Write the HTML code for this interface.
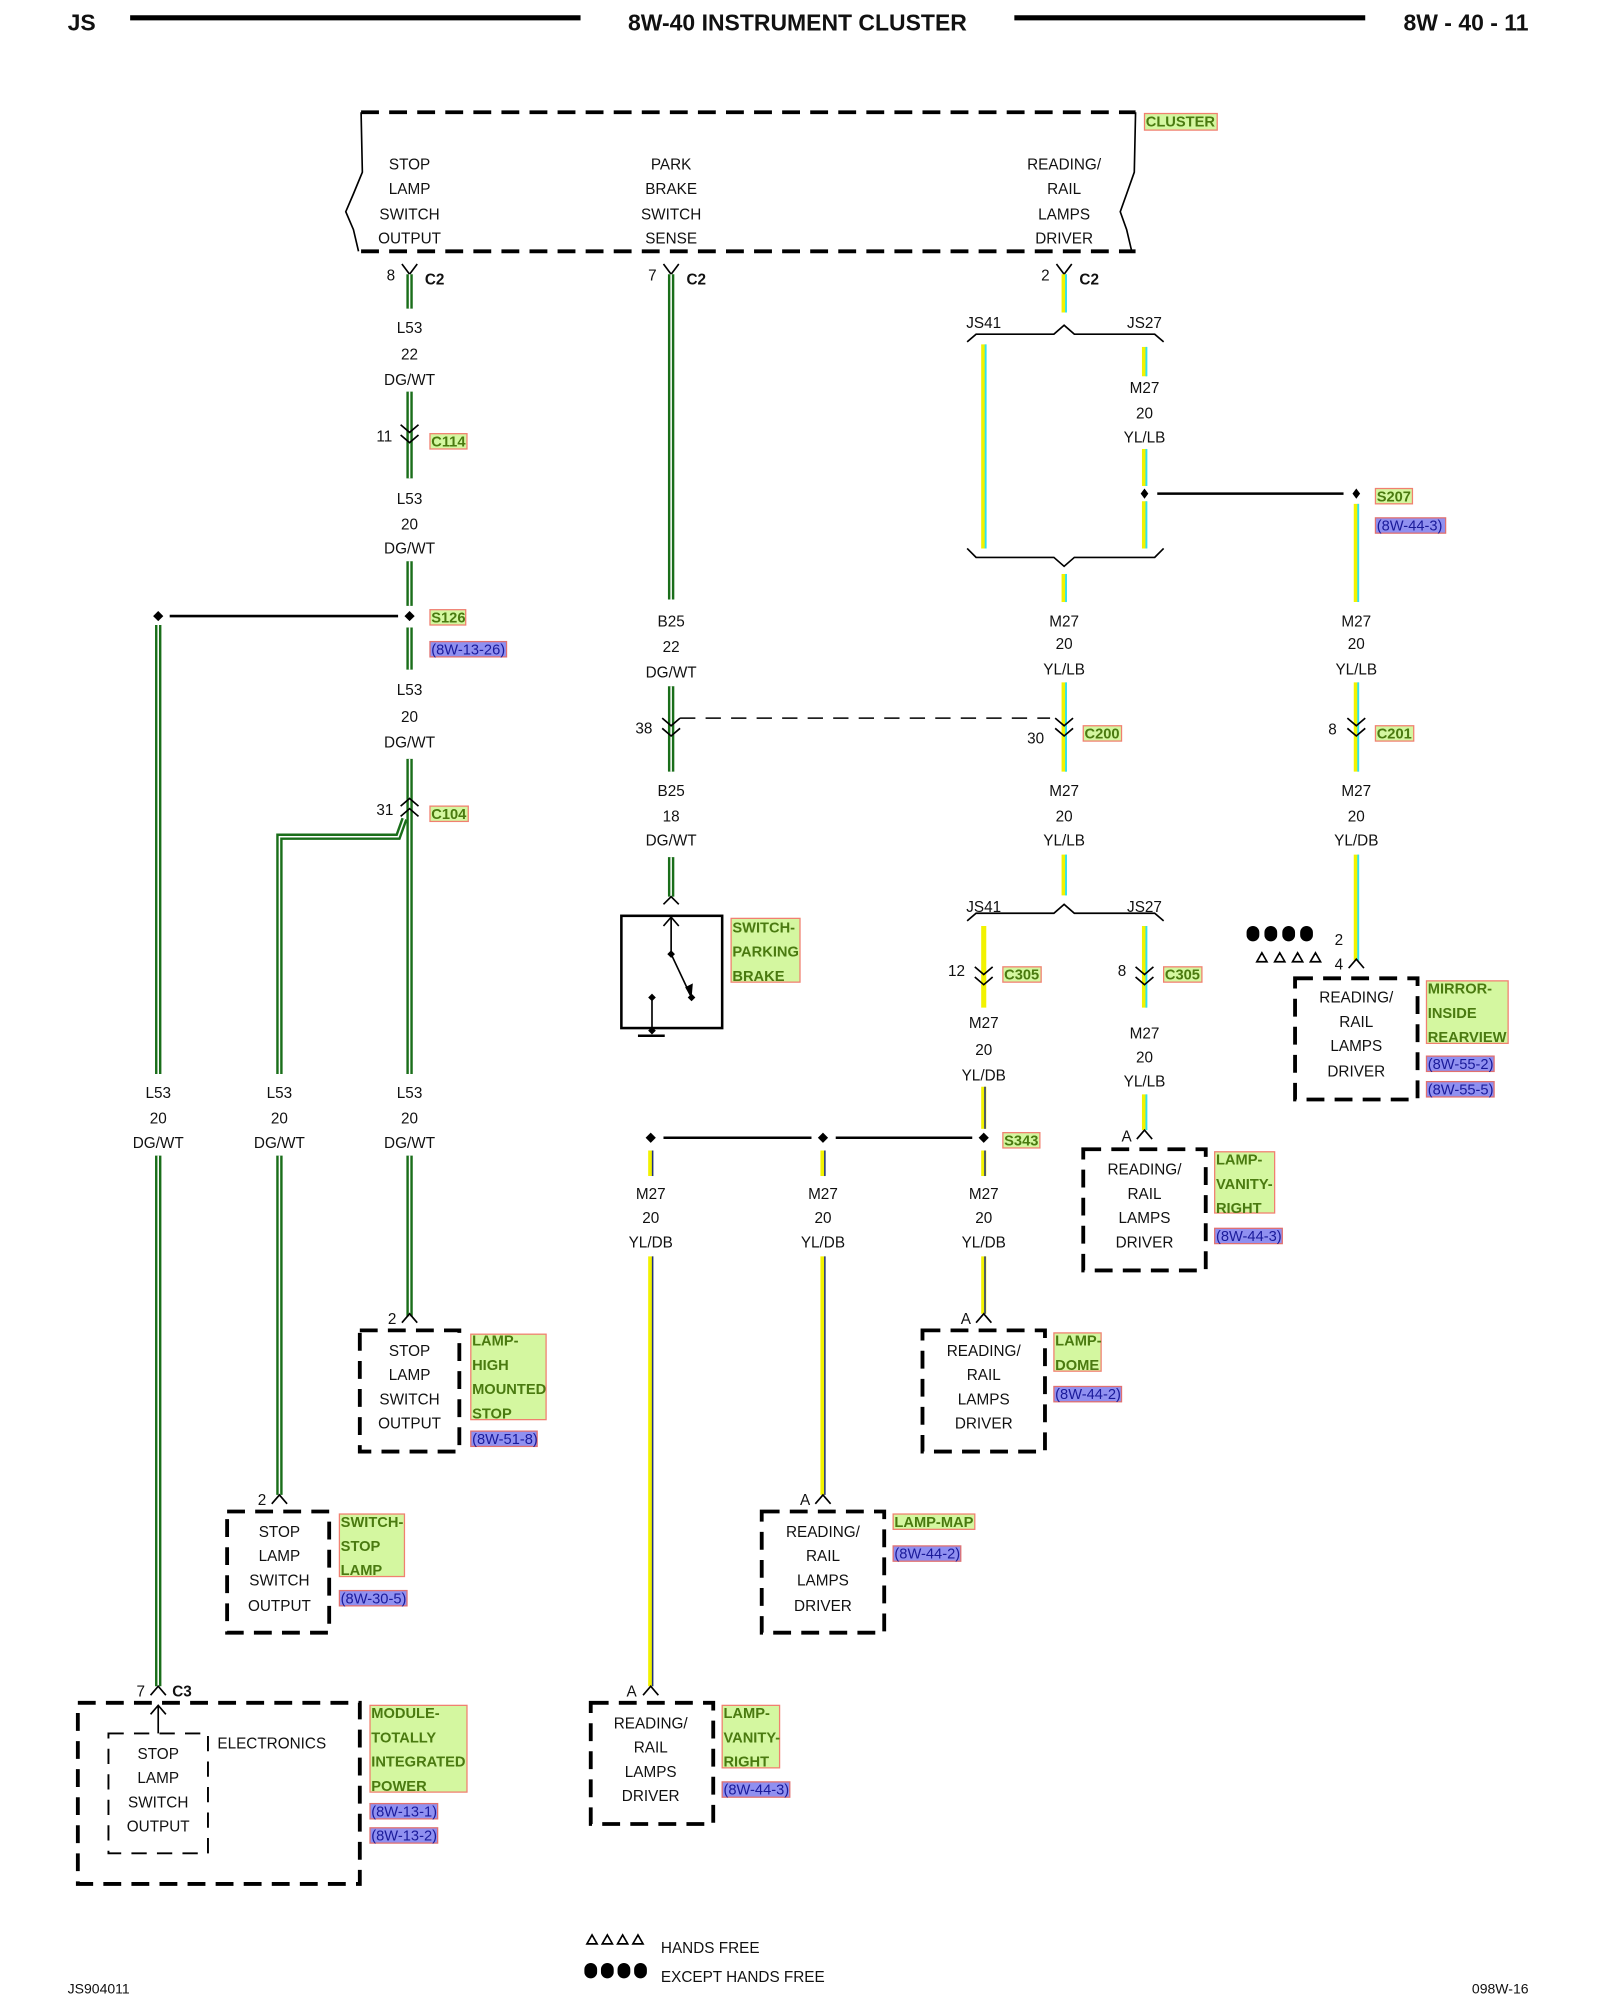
<!DOCTYPE html>
<html><head><meta charset="utf-8"><style>
html,body{margin:0;padding:0;background:#fff;}
svg{display:block}
text{font-family:"Liberation Sans",Arial,sans-serif;font-size:12px;fill:#111;}
.c{text-anchor:middle}
.b{font-weight:bold}
.gl{font-weight:bold;font-size:11.5px;fill:#4a7a10}
.rl{font-size:11.5px;fill:#1a1a9a}
.gw{stroke:#1a6e1a;stroke-width:5;fill:none}
.gs{stroke:#fff;stroke-width:1.2;fill:none}
.yw{stroke:#f2f200;stroke-width:4;fill:none}
.ys{stroke:#30e0f0;stroke-width:1.5;fill:none}
.ds{stroke:#203080;stroke-width:1.2;fill:none}
.k{stroke:#000;stroke-width:1.3;fill:none}
.dash{stroke:#000;stroke-width:3;fill:none;stroke-dasharray:14,8}
.dash2{stroke:#000;stroke-width:1.5;fill:none;stroke-dasharray:12,8}
.glb{fill:#d4f7a0;stroke:#f08070;stroke-width:1}
.rlb{fill:#9090f0;stroke:#e07070;stroke-width:1}
</style></head><body>
<svg width="1600" height="2000" viewBox="0 0 1254 1568" preserveAspectRatio="none" xmlns="http://www.w3.org/2000/svg">
<!-- header -->
<text x="53" y="24" class="b" style="font-size:18px">JS</text>
<line x1="102" y1="14" x2="455" y2="14" stroke="#000" stroke-width="4"/>
<text x="625" y="24" class="b c" style="font-size:18px">8W-40 INSTRUMENT CLUSTER</text>
<line x1="795" y1="14" x2="1070" y2="14" stroke="#000" stroke-width="4"/>
<text x="1198" y="24" class="b" style="font-size:18px;text-anchor:end">8W - 40 - 11</text>

<!-- cluster -->
<line x1="283" y1="88" x2="890" y2="88" class="dash"/>
<line x1="283" y1="197" x2="890" y2="197" class="dash"/>
<path d="M283,88 L284,135 L277,152 L271,166 L277,180 L281,197" class="k"/>
<path d="M890,88 L889,135 L883,152 L878,166 L883,180 L887,197" class="k"/>
<rect x="897" y="89" width="57" height="13" class="glb"/><text x="898" y="99" class="gl">CLUSTER</text>
<g class="c">
<text x="321" y="133" class="c">STOP</text><text x="321" y="152" class="c">LAMP</text><text x="321" y="172" class="c">SWITCH</text><text x="321" y="191" class="c">OUTPUT</text>
<text x="526" y="133" class="c">PARK</text><text x="526" y="152" class="c">BRAKE</text><text x="526" y="172" class="c">SWITCH</text><text x="526" y="191" class="c">SENSE</text>
<text x="834" y="133" class="c">READING/</text><text x="834" y="152" class="c">RAIL</text><text x="834" y="172" class="c">LAMPS</text><text x="834" y="191" class="c">DRIVER</text>
</g>

<!-- C2 forks -->
<path d="M315,207 L321,215 L327,207" class="k"/>
<path d="M520,207 L526,215 L532,207" class="k"/>
<path d="M828,207 L834,215 L840,207" class="k"/>
<text x="303" y="220">8</text><text x="333" y="223" class="b">C2</text>
<text x="508" y="220">7</text><text x="538" y="223" class="b">C2</text>
<text x="816" y="220">2</text><text x="846" y="223" class="b">C2</text>

<!-- ===== wire 1 x=321 ===== -->
<g>
<line x1="321" y1="215" x2="321" y2="242" class="gw"/><line x1="321" y1="215" x2="321" y2="242" class="gs"/>
<text x="321" y="261" class="c">L53</text><text x="321" y="282" class="c">22</text><text x="321" y="302" class="c">DG/WT</text>
<line x1="321" y1="307" x2="321" y2="375" class="gw"/><line x1="321" y1="307" x2="321" y2="375" class="gs"/>
<path d="M314,333 L321,339 L328,333 M314,341 L321,347 L328,341" class="k"/>
<text x="295" y="346">11</text>
<rect x="337" y="340" width="29" height="12" class="glb"/><text x="338" y="350" class="gl">C114</text>
<text x="321" y="395" class="c">L53</text><text x="321" y="415" class="c">20</text><text x="321" y="434" class="c">DG/WT</text>
<line x1="321" y1="440" x2="321" y2="475" class="gw"/><line x1="321" y1="440" x2="321" y2="475" class="gs"/>
<path d="M321,479 L325,483 L321,487 L317,483Z" fill="#000"/>
<line x1="133" y1="483" x2="312" y2="483" stroke="#000" stroke-width="2"/>
<path d="M124,479 L128,483 L124,487 L120,483Z" fill="#000"/>
<rect x="337" y="478" width="28" height="12" class="glb"/><text x="338" y="488" class="gl">S126</text>
<rect x="337" y="503" width="60" height="12" class="rlb"/><text x="338" y="513" class="rl">(8W-13-26)</text>
<line x1="321" y1="492" x2="321" y2="525" class="gw"/><line x1="321" y1="492" x2="321" y2="525" class="gs"/>
<text x="321" y="545" class="c">L53</text><text x="321" y="566" class="c">20</text><text x="321" y="586" class="c">DG/WT</text>
<line x1="321" y1="595" x2="321" y2="842" class="gw"/><line x1="321" y1="595" x2="321" y2="842" class="gs"/>
<path d="M314,632 L321,626 L328,632 M314,640 L321,634 L328,640" class="k"/>
<text x="295" y="639">31</text>
<rect x="337" y="632" width="30" height="12" class="glb"/><text x="338" y="642" class="gl">C104</text>
<path d="M317,642 L312,656 L219,656 L219,842" class="gw"/><path d="M317,642 L312,656 L219,656 L219,842" class="gs"/>
<text x="321" y="861" class="c">L53</text><text x="321" y="881" class="c">20</text><text x="321" y="900" class="c">DG/WT</text>
<line x1="321" y1="906" x2="321" y2="1032" class="gw"/><line x1="321" y1="906" x2="321" y2="1032" class="gs"/>
<path d="M315,1037 L321,1030 L327,1037" class="k"/><text x="304" y="1038">2</text>
<rect x="282" y="1043" width="78" height="95" class="dash"/>
<text x="321" y="1063" class="c">STOP</text><text x="321" y="1082" class="c">LAMP</text><text x="321" y="1101" class="c">SWITCH</text><text x="321" y="1120" class="c">OUTPUT</text>
<rect x="369" y="1046" width="59" height="67" class="glb"/>
<text x="370" y="1055" class="gl">LAMP-</text><text x="370" y="1074" class="gl">HIGH</text><text x="370" y="1093" class="gl">MOUNTED</text><text x="370" y="1112" class="gl">STOP</text>
<rect x="369" y="1122" width="52" height="12" class="rlb"/><text x="370" y="1132" class="rl">(8W-51-8)</text>
</g>

<!-- wire x=219 -->
<text x="219" y="861" class="c">L53</text><text x="219" y="881" class="c">20</text><text x="219" y="900" class="c">DG/WT</text>
<line x1="219" y1="906" x2="219" y2="1172" class="gw"/><line x1="219" y1="906" x2="219" y2="1172" class="gs"/>
<path d="M213,1179 L219,1172 L225,1179" class="k"/><text x="202" y="1180">2</text>
<rect x="178" y="1185" width="80" height="95" class="dash"/>
<text x="219" y="1205" class="c">STOP</text><text x="219" y="1224" class="c">LAMP</text><text x="219" y="1243" class="c">SWITCH</text><text x="219" y="1263" class="c">OUTPUT</text>
<rect x="266" y="1187" width="51" height="49" class="glb"/>
<text x="267" y="1197" class="gl">SWITCH-</text><text x="267" y="1216" class="gl">STOP</text><text x="267" y="1235" class="gl">LAMP</text>
<rect x="266" y="1247" width="53" height="12" class="rlb"/><text x="267" y="1257" class="rl">(8W-30-5)</text>

<!-- wire x=124 -->
<line x1="124" y1="490" x2="124" y2="842" class="gw"/><line x1="124" y1="490" x2="124" y2="842" class="gs"/>
<text x="124" y="861" class="c">L53</text><text x="124" y="881" class="c">20</text><text x="124" y="900" class="c">DG/WT</text>
<line x1="124" y1="906" x2="124" y2="1322" class="gw"/><line x1="124" y1="906" x2="124" y2="1322" class="gs"/>
<path d="M118,1329 L124,1322 L130,1329" class="k"/><text x="107" y="1330">7</text><text x="135" y="1330" class="b">C3</text>
<rect x="61" y="1335" width="221" height="142" class="dash"/>
<rect x="85" y="1359" width="78" height="94" class="dash2"/>
<path d="M124,1359 L124,1337 M118,1344 L124,1337 L130,1344" class="k"/>
<text x="213" y="1371" class="c">ELECTRONICS</text>
<text x="124" y="1379" class="c">STOP</text><text x="124" y="1398" class="c">LAMP</text><text x="124" y="1417" class="c">SWITCH</text><text x="124" y="1436" class="c">OUTPUT</text>
<rect x="290" y="1337" width="76" height="68" class="glb"/>
<text x="291" y="1347" class="gl">MODULE-</text><text x="291" y="1366" class="gl">TOTALLY</text><text x="291" y="1385" class="gl">INTEGRATED</text><text x="291" y="1404" class="gl">POWER</text>
<rect x="290" y="1414" width="53" height="12" class="rlb"/><text x="291" y="1424" class="rl">(8W-13-1)</text>
<rect x="290" y="1433" width="53" height="12" class="rlb"/><text x="291" y="1443" class="rl">(8W-13-2)</text>

<!-- ===== wire 2 x=526 ===== -->
<line x1="526" y1="215" x2="526" y2="470" class="gw"/><line x1="526" y1="215" x2="526" y2="470" class="gs"/>
<text x="526" y="491" class="c">B25</text><text x="526" y="511" class="c">22</text><text x="526" y="531" class="c">DG/WT</text>
<line x1="526" y1="538" x2="526" y2="605" class="gw"/><line x1="526" y1="538" x2="526" y2="605" class="gs"/>
<path d="M519,563 L526,569 L533,563 M519,571 L526,577 L533,571" class="k"/>
<text x="498" y="575">38</text>
<line x1="533" y1="563" x2="823" y2="563" stroke="#000" stroke-width="1.2" stroke-dasharray="12,8"/>
<text x="526" y="624" class="c">B25</text><text x="526" y="644" class="c">18</text><text x="526" y="663" class="c">DG/WT</text>
<line x1="526" y1="672" x2="526" y2="703" class="gw"/><line x1="526" y1="672" x2="526" y2="703" class="gs"/>
<path d="M520,709 L526,703 L532,709" class="k"/>
<rect x="487" y="718" width="79" height="88" fill="none" stroke="#000" stroke-width="2"/>
<path d="M526,719 L526,748 M520,726 L526,719 L532,726" class="k"/>
<path d="M526,748 L542,782" class="k"/><path d="M537,774 L542,783 L543,771Z" fill="#000"/>
<path d="M526,745 L529,748 L526,751 L523,748Z M542,779 L545,782 L542,785 L539,782Z M511,779 L514,782 L511,785 L508,782Z M511,805 L514,808 L511,811 L508,808Z" fill="#000"/>
<line x1="511" y1="782" x2="511" y2="808" class="k"/>
<line x1="500" y1="812" x2="521" y2="812" stroke="#000" stroke-width="2"/>
<rect x="573" y="720" width="54" height="50" class="glb"/>
<text x="574" y="731" class="gl">SWITCH-</text><text x="574" y="750" class="gl">PARKING</text><text x="574" y="769" class="gl">BRAKE</text>

<!-- ===== wire 3 x=834 ===== -->
<line x1="834" y1="215" x2="834" y2="245" class="yw"/><line x1="835.5" y1="215" x2="835.5" y2="245" class="ys"/>
<path d="M758,268 L765,262 L826,262 L834,255 L842,262 L905,262 L912,268" class="k"/>
<text x="771" y="257" class="c">JS41</text><text x="897" y="257" class="c">JS27</text>
<line x1="771" y1="270" x2="771" y2="430" class="yw"/><line x1="772.5" y1="270" x2="772.5" y2="430" class="ys"/>
<line x1="897" y1="272" x2="897" y2="295" class="yw"/><line x1="898.5" y1="272" x2="898.5" y2="295" class="ys"/>
<text x="897" y="308" class="c">M27</text><text x="897" y="328" class="c">20</text><text x="897" y="347" class="c">YL/LB</text>
<line x1="897" y1="352" x2="897" y2="381" class="yw"/><line x1="898.5" y1="352" x2="898.5" y2="381" class="ys"/>
<path d="M897,383 L900,387 L897,391 L894,387Z M1063,383 L1066,387 L1063,391 L1060,387Z" fill="#000"/>
<line x1="907" y1="387" x2="1053" y2="387" stroke="#000" stroke-width="2"/>
<line x1="897" y1="393" x2="897" y2="430" class="yw"/><line x1="898.5" y1="393" x2="898.5" y2="430" class="ys"/>
<rect x="1078" y="383" width="29" height="12" class="glb"/><text x="1079" y="393" class="gl">S207</text>
<rect x="1078" y="406" width="55" height="12" class="rlb"/><text x="1079" y="416" class="rl">(8W-44-3)</text>
<path d="M758,430 L765,437 L826,437 L834,444 L842,437 L905,437 L912,430" class="k"/>
<line x1="834" y1="450" x2="834" y2="472" class="yw"/><line x1="835.5" y1="450" x2="835.5" y2="472" class="ys"/>
<text x="834" y="491" class="c">M27</text><text x="834" y="509" class="c">20</text><text x="834" y="529" class="c">YL/LB</text>
<line x1="834" y1="535" x2="834" y2="605" class="yw"/><line x1="835.5" y1="535" x2="835.5" y2="605" class="ys"/>
<path d="M827,563 L834,569 L841,563 M827,571 L834,577 L841,571" class="k"/>
<text x="805" y="583">30</text>
<rect x="849" y="569" width="30" height="12" class="glb"/><text x="850" y="579" class="gl">C200</text>
<text x="834" y="624" class="c">M27</text><text x="834" y="644" class="c">20</text><text x="834" y="663" class="c">YL/LB</text>
<line x1="834" y1="670" x2="834" y2="702" class="yw"/><line x1="835.5" y1="670" x2="835.5" y2="702" class="ys"/>
<path d="M758,722 L765,716 L826,716 L834,709 L842,716 L905,716 L912,722" class="k"/>
<text x="771" y="715" class="c">JS41</text><text x="897" y="715" class="c">JS27</text>
<line x1="771" y1="726" x2="771" y2="790" class="yw"/><line x1="897" y1="726" x2="897" y2="790" class="yw"/><line x1="898.5" y1="726" x2="898.5" y2="790" class="ys"/>
<path d="M764,758 L771,764 L778,758 M764,766 L771,772 L778,766 M890,758 L897,764 L904,758 M890,766 L897,772 L904,766" class="k"/>
<text x="743" y="765">12</text><text x="876" y="765">8</text>
<rect x="786" y="758" width="30" height="12" class="glb"/><text x="787" y="768" class="gl">C305</text>
<rect x="912" y="758" width="30" height="12" class="glb"/><text x="913" y="768" class="gl">C305</text>
<text x="771" y="806" class="c">M27</text><text x="771" y="827" class="c">20</text><text x="771" y="847" class="c">YL/DB</text>
<line x1="771" y1="852" x2="771" y2="885" class="yw"/><line x1="772" y1="852" x2="772" y2="885" class="ds"/>
<text x="897" y="814" class="c">M27</text><text x="897" y="833" class="c">20</text><text x="897" y="852" class="c">YL/LB</text>
<line x1="897" y1="858" x2="897" y2="886" class="yw"/><line x1="898.5" y1="858" x2="898.5" y2="886" class="ys"/>
<path d="M891,893 L897,886 L903,893" class="k"/><text x="879" y="895">A</text>
<rect x="849" y="901" width="96" height="95" class="dash"/>
<text x="897" y="921" class="c">READING/</text><text x="897" y="940" class="c">RAIL</text><text x="897" y="959" class="c">LAMPS</text><text x="897" y="978" class="c">DRIVER</text>
<rect x="952" y="903" width="47" height="48" class="glb"/>
<text x="953" y="913" class="gl">LAMP-</text><text x="953" y="932" class="gl">VANITY-</text><text x="953" y="951" class="gl">RIGHT</text>
<rect x="952" y="963" width="53" height="12" class="rlb"/><text x="953" y="973" class="rl">(8W-44-3)</text>

<!-- S343 -->
<path d="M771,888 L775,892 L771,896 L767,892Z M645,888 L649,892 L645,896 L641,892Z M510,888 L514,892 L510,896 L506,892Z" fill="#000"/>
<line x1="520" y1="892" x2="636" y2="892" stroke="#000" stroke-width="2"/>
<line x1="655" y1="892" x2="762" y2="892" stroke="#000" stroke-width="2"/>
<rect x="786" y="888" width="29" height="12" class="glb"/><text x="787" y="898" class="gl">S343</text>
<g>
<line x1="510" y1="902" x2="510" y2="922" class="yw"/><line x1="511.5" y1="902" x2="511.5" y2="922" class="ds"/>
<line x1="645" y1="902" x2="645" y2="922" class="yw"/><line x1="646.5" y1="902" x2="646.5" y2="922" class="ds"/>
<line x1="771" y1="902" x2="771" y2="922" class="yw"/><line x1="772" y1="902" x2="772" y2="922" class="ds"/>
<text x="510" y="940" class="c">M27</text><text x="510" y="959" class="c">20</text><text x="510" y="978" class="c">YL/DB</text>
<text x="645" y="940" class="c">M27</text><text x="645" y="959" class="c">20</text><text x="645" y="978" class="c">YL/DB</text>
<text x="771" y="940" class="c">M27</text><text x="771" y="959" class="c">20</text><text x="771" y="978" class="c">YL/DB</text>
<line x1="510" y1="985" x2="510" y2="1322" class="yw"/><line x1="511.5" y1="985" x2="511.5" y2="1322" class="ds"/>
<line x1="645" y1="985" x2="645" y2="1172" class="yw"/><line x1="646.5" y1="985" x2="646.5" y2="1172" class="ds"/>
<line x1="771" y1="985" x2="771" y2="1030" class="yw"/><line x1="772" y1="985" x2="772" y2="1030" class="ds"/>
</g>
<path d="M765,1037 L771,1030 L777,1037" class="k"/><text x="753" y="1038">A</text>
<rect x="723" y="1043" width="96" height="95" class="dash"/>
<text x="771" y="1063" class="c">READING/</text><text x="771" y="1082" class="c">RAIL</text><text x="771" y="1101" class="c">LAMPS</text><text x="771" y="1120" class="c">DRIVER</text>
<rect x="826" y="1045" width="37" height="30" class="glb"/>
<text x="827" y="1055" class="gl">LAMP-</text><text x="827" y="1074" class="gl">DOME</text>
<rect x="826" y="1087" width="53" height="12" class="rlb"/><text x="827" y="1097" class="rl">(8W-44-2)</text>

<path d="M639,1179 L645,1172 L651,1179" class="k"/><text x="627" y="1180">A</text>
<rect x="597" y="1185" width="96" height="95" class="dash"/>
<text x="645" y="1205" class="c">READING/</text><text x="645" y="1224" class="c">RAIL</text><text x="645" y="1243" class="c">LAMPS</text><text x="645" y="1263" class="c">DRIVER</text>
<rect x="700" y="1187" width="64" height="12" class="glb"/><text x="701" y="1197" class="gl">LAMP-MAP</text>
<rect x="700" y="1212" width="53" height="12" class="rlb"/><text x="701" y="1222" class="rl">(8W-44-2)</text>

<path d="M504,1329 L510,1322 L516,1329" class="k"/><text x="491" y="1330">A</text>
<rect x="463" y="1335" width="96" height="95" class="dash"/>
<text x="510" y="1355" class="c">READING/</text><text x="510" y="1374" class="c">RAIL</text><text x="510" y="1393" class="c">LAMPS</text><text x="510" y="1412" class="c">DRIVER</text>
<rect x="566" y="1337" width="45" height="49" class="glb"/>
<text x="567" y="1347" class="gl">LAMP-</text><text x="567" y="1366" class="gl">VANITY-</text><text x="567" y="1385" class="gl">RIGHT</text>
<rect x="566" y="1397" width="53" height="12" class="rlb"/><text x="567" y="1407" class="rl">(8W-44-3)</text>

<!-- ===== wire 4 x=1063 ===== -->
<line x1="1063" y1="395" x2="1063" y2="472" class="yw"/><line x1="1064.5" y1="395" x2="1064.5" y2="472" class="ys"/>
<text x="1063" y="491" class="c">M27</text><text x="1063" y="509" class="c">20</text><text x="1063" y="529" class="c">YL/LB</text>
<line x1="1063" y1="535" x2="1063" y2="605" class="yw"/><line x1="1064.5" y1="535" x2="1064.5" y2="605" class="ys"/>
<path d="M1056,563 L1063,569 L1070,563 M1056,571 L1063,577 L1070,571" class="k"/>
<text x="1041" y="576">8</text>
<rect x="1078" y="569" width="30" height="12" class="glb"/><text x="1079" y="579" class="gl">C201</text>
<text x="1063" y="624" class="c">M27</text><text x="1063" y="644" class="c">20</text><text x="1063" y="663" class="c">YL/DB</text>
<line x1="1063" y1="670" x2="1063" y2="753" class="yw"/><line x1="1064.5" y1="670" x2="1064.5" y2="753" class="ys"/>
<path d="M1057,759 L1063,752 L1069,759" class="k"/>
<text x="1046" y="741">2</text><text x="1046" y="760">4</text>
<g fill="#000">
<path d="M977,731 a5,5 0 0 1 10,0 v2 a5,5 0 0 1 -10,0Z M991,731 a5,5 0 0 1 10,0 v2 a5,5 0 0 1 -10,0Z M1005,731 a5,5 0 0 1 10,0 v2 a5,5 0 0 1 -10,0Z M1019,731 a5,5 0 0 1 10,0 v2 a5,5 0 0 1 -10,0Z"/>
</g>
<g fill="none" stroke="#000" stroke-width="1.3">
<path d="M985,754 l4,-7 l4,7Z M999,754 l4,-7 l4,7Z M1013,754 l4,-7 l4,7Z M1027,754 l4,-7 l4,7Z"/>
</g>
<rect x="1015" y="767" width="96" height="95" class="dash"/>
<text x="1063" y="786" class="c">READING/</text><text x="1063" y="805" class="c">RAIL</text><text x="1063" y="824" class="c">LAMPS</text><text x="1063" y="844" class="c">DRIVER</text>
<rect x="1118" y="769" width="64" height="49" class="glb"/>
<text x="1119" y="779" class="gl">MIRROR-</text><text x="1119" y="798" class="gl">INSIDE</text><text x="1119" y="817" class="gl">REARVIEW</text>
<rect x="1118" y="828" width="53" height="12" class="rlb"/><text x="1119" y="838" class="rl">(8W-55-2)</text>
<rect x="1118" y="848" width="53" height="12" class="rlb"/><text x="1119" y="858" class="rl">(8W-55-5)</text>

<!-- legend -->
<g fill="none" stroke="#000" stroke-width="1.3">
<path d="M460,1524 l4,-7 l4,7Z M472,1524 l4,-7 l4,7Z M484,1524 l4,-7 l4,7Z M496,1524 l4,-7 l4,7Z"/>
</g>
<g fill="#000">
<path d="M458,1544 a5,5 0 0 1 10,0 v2 a5,5 0 0 1 -10,0Z M471,1544 a5,5 0 0 1 10,0 v2 a5,5 0 0 1 -10,0Z M484,1544 a5,5 0 0 1 10,0 v2 a5,5 0 0 1 -10,0Z M497,1544 a5,5 0 0 1 10,0 v2 a5,5 0 0 1 -10,0Z"/>
</g>
<text x="518" y="1531">HANDS FREE</text>
<text x="518" y="1554">EXCEPT HANDS FREE</text>
<text x="53" y="1563" style="font-size:11px">JS904011</text>
<text x="1198" y="1563" style="font-size:11px;text-anchor:end">098W-16</text>
</svg>
</body></html>
